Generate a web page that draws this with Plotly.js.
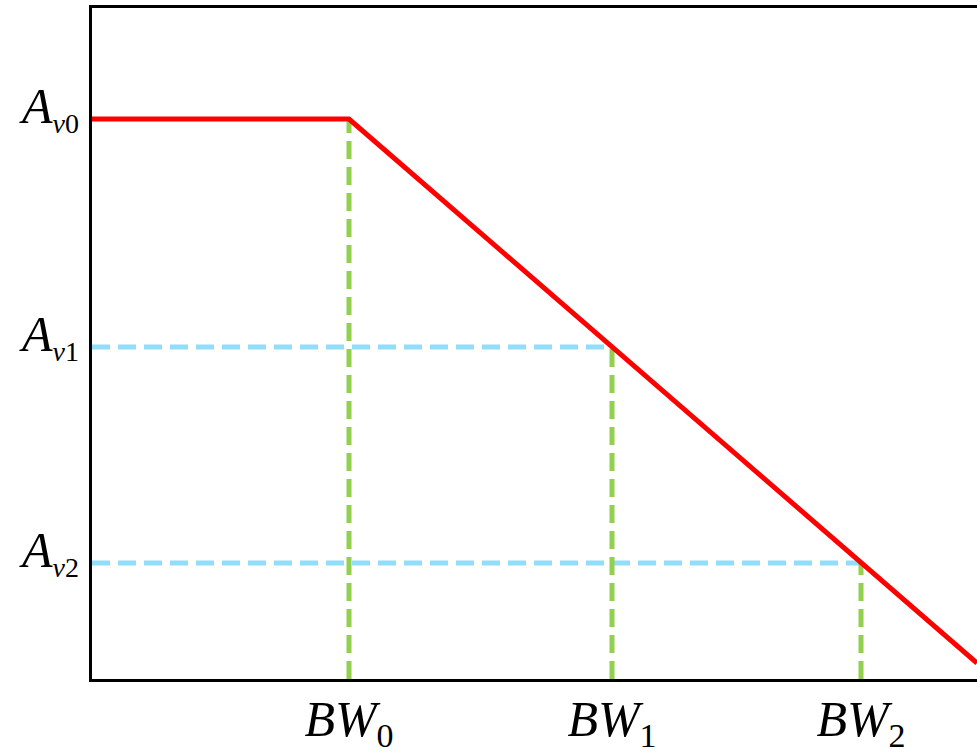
<!DOCTYPE html>
<html><head><meta charset="utf-8">
<script src="https://cdn.plot.ly/plotly-3.0.1.min.js"></script>
<style>html,body{margin:0;padding:0;background:#fff;}</style>
</head><body>
<div id="chart" style="width:977px;height:755px;"></div>
<script>
// Gain levels and corresponding bandwidths (arbitrary units)
const gainLabels = ["<i>A</i><sub><span style='font-size:28px'><i>v</i>0</span></sub>",
                    "<i>A</i><sub><span style='font-size:28px'><i>v</i>1</span></sub>",
                    "<i>A</i><sub><span style='font-size:28px'><i>v</i>2</span></sub>"];
const gainValues = [560, 332, 116];
const bwLabels = ["<i>BW</i><sub><span style='font-size:34px'>0</span></sub>",
                  "<i>BW</i><sub><span style='font-size:34px'>1</span></sub>",
                  "<i>BW</i><sub><span style='font-size:34px'>2</span></sub>"];
const bwValues = [257, 520, 769];
// Response curve
const curveX = [0, 257, 885];
const curveY = [560, 560, 16];

const green = "#92d050";
const blue = "#92ddf9";
const traces = [];
for (let i = 1; i < 3; i++) {
  traces.push({x: [0, bwValues[i]], y: [gainValues[i], gainValues[i]], mode: "lines",
    line: {color: blue, width: 5, dash: "18px,8px"}, hoverinfo: "skip"});
}
for (let i = 0; i < 3; i++) {
  traces.push({x: [bwValues[i], bwValues[i]], y: [0, gainValues[i]], mode: "lines",
    line: {color: green, width: 5, dash: "18px,8px"}, hoverinfo: "skip"});
}
traces.push({x: curveX, y: curveY, mode: "lines", line: {color: "#ff0000", width: 5}, hoverinfo: "skip"});

const tickFont = {family: "Liberation Serif", size: 50, color: "#000"};
const layout = {
  width: 977, height: 755,
  margin: {l: 92, r: 0, t: 8, b: 76},
  showlegend: false,
  paper_bgcolor: "#fff", plot_bgcolor: "#fff",
  xaxis: {range: [0, 885], showgrid: false, zeroline: false, showline: true, mirror: true,
    linecolor: "#000", linewidth: 3, tickmode: "array", tickvals: bwValues, ticktext: bwLabels,
    ticks: "", tickfont: tickFont, ticklabelstandoff: -6},
  yaxis: {range: [0, 671], showgrid: false, zeroline: false, showline: true, mirror: false,
    linecolor: "#000", linewidth: 3, tickmode: "array", tickvals: gainValues, ticktext: gainLabels,
    ticks: "", tickfont: tickFont, ticklabelstandoff: 0, ticklabelshift: -14}
};
Plotly.newPlot("chart", traces, layout, {displayModeBar: false, staticPlot: true});
</script>
</body></html>
